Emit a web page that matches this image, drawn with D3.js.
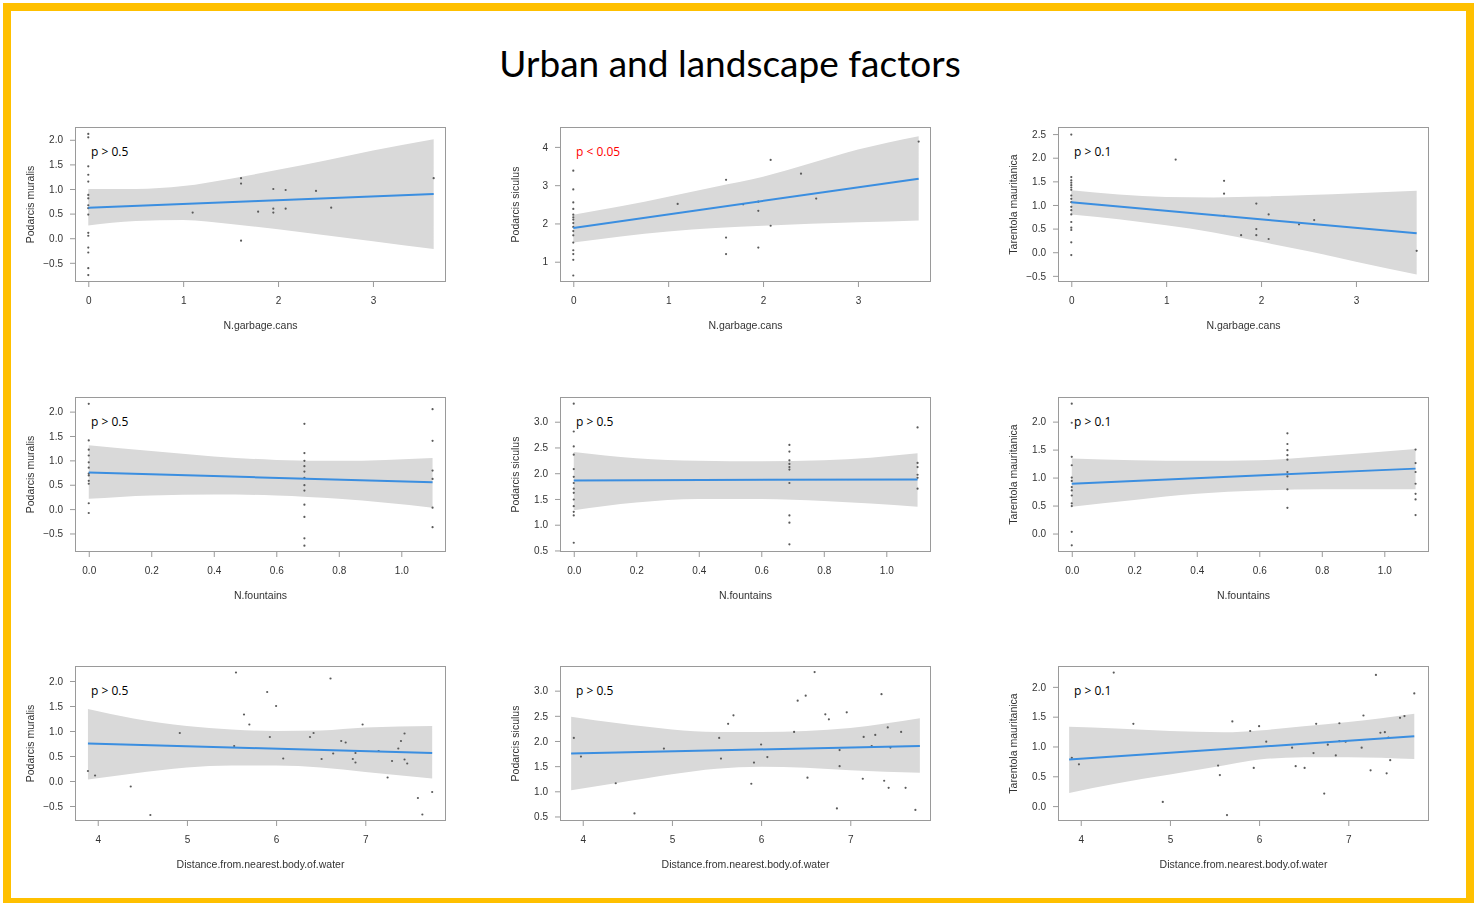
<!DOCTYPE html>
<html>
<head>
<meta charset="utf-8">
<script src="https://cdn.jsdelivr.net/npm/d3@7"></script>
<style>
  body { margin: 0; background: #fff; }
  svg { display: block; }
</style>
</head>
<body>
<svg id="chart" width="1480" height="903"></svg>
<script>
// ---- Observations: [predictor, abundance] ----
const ptsMuralisGarbage = [
  [0,2.12],[0,2.05],[0,1.46],[0,1.29],[0,1.15],[0,0.88],[0,0.81],[0,0.67],[0,0.61],[0,0.48],
  [0,0.11],[0,0.05],[0,-0.19],[0,-0.29],[0,-0.61],[0,-0.75],
  [1.1,0.52],[1.61,1.22],[1.61,1.11],[1.61,-0.05],[1.79,0.54],[1.95,1.0],[1.95,0.6],[1.95,0.52],
  [2.08,0.98],[2.08,0.6],[2.4,0.96],[2.56,0.62],[3.64,1.22]
];
const ptsSiculusGarbage = [
  [0,3.38],[0,2.89],[0,2.55],[0,2.38],[0,2.23],[0,2.16],[0,2.10],[0,2.01],[0,1.91],[0,1.80],
  [0,1.69],[0,1.50],[0,1.30],[0,1.20],[0,1.05],[0,0.64],
  [1.1,2.51],[1.61,3.14],[1.61,1.63],[1.61,1.2],[1.79,2.5],[1.95,2.57],[1.95,2.33],[1.95,1.37],
  [2.08,3.66],[2.08,1.94],[2.4,3.30],[2.56,2.65],[3.64,4.14]
];
const ptsTarentolaGarbage = [
  [0,2.49],[0,1.59],[0,1.52],[0,1.47],[0,1.42],[0,1.37],[0,1.32],[0,1.20],[0,1.13],[0,1.06],
  [0,0.96],[0,0.89],[0,0.80],[0,0.64],[0,0.52],[0,0.47],[0,0.21],[0,-0.06],
  [1.1,1.96],[1.61,1.51],[1.61,1.24],[1.61,0.77],[1.79,0.36],[1.95,1.03],[1.95,0.49],[1.95,0.36],
  [2.08,0.80],[2.08,0.28],[2.4,0.59],[2.56,0.68],[3.64,0.03]
];
const ptsMuralisFountains = [
  [0,2.16],[0,1.41],[0,1.22],[0,1.10],[0,0.96],[0,0.85],[0,0.73],[0,0.69],[0,0.58],[0,0.52],[0,0.12],[0,-0.08],
  [0.69,1.75],[0.69,1.15],[0.69,0.99],[0.69,0.88],[0.69,0.77],[0.69,0.64],[0.69,0.49],[0.69,0.38],
  [0.69,0.09],[0.69,-0.16],[0.69,-0.60],[0.69,-0.75],
  [1.1,2.05],[1.1,1.40],[1.1,0.79],[1.1,0.62],[1.1,0.03],[1.1,-0.37]
];
const ptsSiculusFountains = [
  [0,3.35],[0,2.81],[0,2.52],[0,2.36],[0,2.08],[0,1.93],[0,1.81],[0,1.70],[0,1.62],[0,1.49],
  [0,1.36],[0,1.25],[0,1.18],[0,0.65],
  [0.69,2.55],[0.69,2.42],[0.69,2.25],[0.69,2.18],[0.69,2.12],[0.69,2.07],[0.69,1.81],[0.69,1.18],
  [0.69,1.04],[0.69,0.62],
  [1.1,2.89],[1.1,2.20],[1.1,2.12],[1.1,1.97],[1.1,1.91],[1.1,1.70]
];
const ptsTarentolaFountains = [
  [0,2.32],[0,1.98],[0,1.37],[0,1.22],[0,1.00],[0,0.94],[0,0.83],[0,0.77],[0,0.68],[0,0.54],
  [0,0.49],[0,0.03],[0,-0.21],
  [0.69,1.79],[0.69,1.60],[0.69,1.49],[0.69,1.40],[0.69,1.32],[0.69,1.10],[0.69,1.02],[0.69,0.79],[0.69,0.46],
  [1.1,1.50],[1.1,1.26],[1.1,1.10],[1.1,0.89],[1.1,0.71],[1.1,0.61],[1.1,0.33]
];
const ptsMuralisWater = [
  [3.89,0.20],[3.97,0.11],[4.37,-0.11],[4.59,-0.68],[4.92,0.96],[5.53,0.70],[5.55,2.17],[5.64,1.33],
  [5.70,1.13],[5.90,1.78],[6.0,1.50],[5.93,0.88],[6.08,0.45],[6.38,0.88],[6.42,0.96],[6.51,0.44],
  [6.61,2.05],[6.64,0.55],[6.73,0.80],[6.78,0.77],[6.86,0.44],[6.89,0.56],[6.89,0.37],[6.97,1.13],
  [7.15,0.60],[7.25,0.07],[7.30,0.40],[7.37,0.65],[7.40,0.80],[7.44,0.95],[7.44,0.43],[7.47,0.35],
  [7.59,-0.34],[7.64,-0.67],[7.75,-0.22]
];
const ptsSiculusWater = [
  [3.90,2.06],[3.98,1.69],[4.37,1.16],[4.58,0.56],[4.91,1.85],[5.53,2.06],[5.55,1.65],[5.63,2.34],
  [5.69,2.51],[5.89,1.15],[5.92,1.57],[6.0,1.93],[6.07,1.68],[6.37,2.18],[6.41,2.80],[6.50,2.90],
  [6.52,1.27],[6.60,3.37],[6.72,2.53],[6.76,2.43],[6.85,0.66],[6.88,1.50],[6.88,1.82],[6.96,2.57],
  [7.14,1.25],[7.15,2.08],[7.24,1.90],[7.28,2.12],[7.35,2.93],[7.38,1.21],[7.42,2.27],[7.43,1.07],
  [7.45,1.87],[7.57,2.18],[7.62,1.07],[7.73,0.63]
];
const ptsTarentolaWater = [
  [3.90,0.81],[3.98,0.70],[4.37,2.24],[4.59,1.38],[4.92,0.07],[5.54,0.68],[5.56,0.52],[5.64,-0.15],
  [5.70,1.42],[5.90,1.26],[5.94,0.64],[6.0,1.34],[6.08,1.08],[6.37,0.98],[6.41,0.67],[6.51,0.64],
  [6.61,0.89],[6.64,1.38],[6.73,0.21],[6.77,1.03],[6.86,0.85],[6.90,1.39],[6.90,1.09],[6.97,1.08],
  [7.15,0.98],[7.17,1.52],[7.25,0.60],[7.31,2.20],[7.36,1.23],[7.41,1.24],[7.43,0.55],[7.45,1.15],
  [7.47,0.77],[7.58,1.48],[7.63,1.51],[7.74,1.89]
];

// ---- Fitted lines: [[x0, y0], [x1, y1]] ----
const fitMuralisGarbage    = [[0, 0.62], [3.64, 0.90]];
const fitSiculusGarbage    = [[0, 1.88], [3.64, 3.17]];
const fitTarentolaGarbage  = [[0, 1.06], [3.64, 0.40]];
const fitMuralisFountains  = [[0, 0.75], [1.1, 0.55]];
const fitSiculusFountains  = [[0, 1.86], [1.1, 1.88]];
const fitTarentolaFountains= [[0, 0.89], [1.1, 1.16]];
const fitMuralisWater      = [[3.89, 0.75], [7.75, 0.56]];
const fitSiculusWater      = [[3.87, 1.75], [7.78, 1.90]];
const fitTarentolaWater    = [[3.87, 0.78], [7.74, 1.17]];

// ---- Confidence bands: [x, lower, upper] ----
const bandMuralisGarbage = [
  [0,0.26,1.00],[0.5,0.35,1.00],[1,0.37,1.06],[1.5,0.29,1.21],[2,0.18,1.39],[2.5,0.06,1.58],[3,-0.06,1.78],[3.64,-0.22,2.01]
];
const bandSiculusGarbage = [
  [0,1.50,2.23],[0.5,1.66,2.45],[1,1.79,2.70],[1.5,1.88,2.96],[2,1.94,3.22],[2.5,1.99,3.57],[3,2.03,3.93],[3.64,2.08,4.28]
];
const bandTarentolaGarbage = [
  [0,0.80,1.31],[0.5,0.70,1.22],[1,0.57,1.17],[1.5,0.42,1.16],[2,0.22,1.18],[2.5,0.02,1.21],[3,-0.20,1.25],[3.64,-0.47,1.30]
];
const bandMuralisFountains = [
  [0,0.21,1.31],[0.2,0.28,1.19],[0.4,0.30,1.08],[0.6,0.28,1.01],[0.8,0.21,0.99],[1.1,0.03,1.05]
];
const bandSiculusFountains = [
  [0,1.28,2.41],[0.2,1.43,2.29],[0.4,1.50,2.24],[0.6,1.50,2.23],[0.8,1.46,2.25],[1.1,1.35,2.39]
];
const bandTarentolaFountains = [
  [0,0.48,1.34],[0.2,0.60,1.31],[0.4,0.71,1.30],[0.6,0.77,1.31],[0.8,0.79,1.38],[1.1,0.79,1.51]
];
const bandMuralisWater = [
  [3.89,0.03,1.44],[4.4,0.15,1.25],[5,0.27,1.10],[5.5,0.31,1.03],[6,0.31,1.00],[6.5,0.27,1.01],[7,0.18,1.07],[7.75,0.05,1.10]
];
const bandSiculusWater = [
  [3.87,1.02,2.48],[4.4,1.17,2.35],[5,1.34,2.23],[5.5,1.45,2.18],[6,1.49,2.18],[6.5,1.47,2.20],[7,1.42,2.26],[7.78,1.37,2.45]
];
const bandTarentolaWater = [
  [3.87,0.22,1.33],[4.4,0.38,1.30],[5,0.53,1.26],[5.6,0.68,1.24],[6,0.78,1.27],[6.5,0.82,1.34],[7,0.82,1.41],[7.74,0.79,1.55]
];

// ---- Axis limits and ticks ----
const xLimGarbage   = [-0.14, 3.77];
const xLimFountains = [-0.044, 1.143];
const xLimWater     = [3.745, 7.905];
const xTicksGarbage   = [0, 1, 2, 3];
const xTicksFountains = [0, 0.2, 0.4, 0.6, 0.8, 1.0];
const xTicksWater     = [4, 5, 6, 7];

const yLimits = [
  [-0.89, 2.26], [0.47, 4.52], [-0.63, 2.65],
  [-0.88, 2.30], [0.47, 3.48], [-0.33, 2.44],
  [-0.80, 2.30], [0.41, 3.49], [-0.25, 2.35]
];
const yTickSets = [
  [-0.5, 0, 0.5, 1, 1.5, 2], [1, 2, 3, 4], [-0.5, 0, 0.5, 1, 1.5, 2, 2.5],
  [-0.5, 0, 0.5, 1, 1.5, 2], [0.5, 1, 1.5, 2, 2.5, 3], [0, 0.5, 1, 1.5, 2],
  [-0.5, 0, 0.5, 1, 1.5, 2], [0.5, 1, 1.5, 2, 2.5, 3], [0, 0.5, 1, 1.5, 2]
];

const speciesNames = ["Podarcis muralis", "Podarcis siculus", "Tarentola mauritanica"];
const factorNames  = ["N.garbage.cans", "N.fountains", "Distance.from.nearest.body.of.water"];
const pLabels = ["p > 0.5", "p < 0.05", "p > 0.1", "p > 0.5", "p > 0.5", "p > 0.1", "p > 0.5", "p > 0.5", "p > 0.1"];
const pSignificant = [false, true, false, false, false, false, false, false, false];
const titleText = "Urban and landscape factors";

// ---- Panel table (row = factor, column = species) ----
const panelPoints = [ptsMuralisGarbage, ptsSiculusGarbage, ptsTarentolaGarbage,
  ptsMuralisFountains, ptsSiculusFountains, ptsTarentolaFountains,
  ptsMuralisWater, ptsSiculusWater, ptsTarentolaWater];
const panelFits = [fitMuralisGarbage, fitSiculusGarbage, fitTarentolaGarbage,
  fitMuralisFountains, fitSiculusFountains, fitTarentolaFountains,
  fitMuralisWater, fitSiculusWater, fitTarentolaWater];
const panelBands = [bandMuralisGarbage, bandSiculusGarbage, bandTarentolaGarbage,
  bandMuralisFountains, bandSiculusFountains, bandTarentolaFountains,
  bandMuralisWater, bandSiculusWater, bandTarentolaWater];
const factorXLim = [xLimGarbage, xLimFountains, xLimWater];
const factorXTicks = [xTicksGarbage, xTicksFountains, xTicksWater];
const factorXFormat = [d3.format("d"), d3.format(".1f"), d3.format("d")];

// ---- Layout ----
const colLeft = [75, 560, 1058];
const rowTop = [127, 397, 666];
const plotW = 371, plotH = 155;

const svg = d3.select("#chart");

// Gold frame
svg.append("rect")
  .attr("x", 7).attr("y", 7)
  .attr("width", 1463).attr("height", 895)
  .attr("fill", "#fff")
  .attr("stroke", "#FFC000")
  .attr("stroke-width", 8);

svg.append("text")
  .attr("x", 730).attr("y", 77)
  .attr("text-anchor", "middle")
  .attr("font-family", "Lato, 'Open Sans', sans-serif")
  .attr("font-size", 37)
  .attr("fill", "#000")
  .text(titleText);

const defs = svg.append("defs");
defs.append("filter").attr("id", "soft")
  .append("feGaussianBlur").attr("stdDeviation", 0.35);

const tickFont = "'Liberation Sans', Arial, sans-serif";
const axisGrey = "#9a9a9a";
const textGrey = "#333";

for (let i = 0; i < 9; i++) {
  const row = Math.floor(i / 3), col = i % 3;
  const x0 = colLeft[col], y0 = rowTop[row];
  const x = d3.scaleLinear().domain(factorXLim[row]).range([x0, x0 + plotW]);
  const y = d3.scaleLinear().domain(yLimits[i]).range([y0 + plotH, y0]);

  const g = svg.append("g").attr("filter", "url(#soft)");
  const clipId = "clip" + i;
  defs.append("clipPath").attr("id", clipId)
    .append("rect").attr("x", x0).attr("y", y0).attr("width", plotW).attr("height", plotH);

  const inner = g.append("g").attr("clip-path", `url(#${clipId})`);

  // confidence band
  inner.append("path")
    .datum(panelBands[i])
    .attr("fill", "#d9d9d9")
    .attr("d", d3.area()
      .curve(d3.curveMonotoneX)
      .x(d => x(d[0])).y0(d => y(d[1])).y1(d => y(d[2])));

  // observations
  inner.selectAll("circle.obs")
    .data(panelPoints[i])
    .join("circle")
    .attr("class", "obs")
    .attr("cx", d => x(d[0])).attr("cy", d => y(d[1]))
    .attr("r", 1.1)
    .attr("fill", "#5a5a5a");

  // fitted line
  inner.append("path")
    .datum(panelFits[i])
    .attr("fill", "none")
    .attr("stroke", "#3a8ee0")
    .attr("stroke-width", 2)
    .attr("d", d3.line().x(d => x(d[0])).y(d => y(d[1])));

  // plot frame
  g.append("rect")
    .attr("x", x0 + 0.5).attr("y", y0 + 0.5)
    .attr("width", plotW - 1).attr("height", plotH - 1)
    .attr("fill", "none").attr("stroke", axisGrey).attr("stroke-width", 1);

  // axes
  const xAxis = d3.axisBottom(x).tickValues(factorXTicks[row])
    .tickFormat(factorXFormat[row]).tickSize(5).tickPadding(10);
  const yFmt = i === 1 ? d3.format("d") : d3.format(".1f");
  const yAxis = d3.axisLeft(y).tickValues(yTickSets[i])
    .tickFormat(yFmt).tickSize(5).tickPadding(7);

  const gx = g.append("g").attr("transform", `translate(0,${y0 + plotH})`).call(xAxis);
  const gy = g.append("g").attr("transform", `translate(${x0},0)`).call(yAxis);
  [gx, gy].forEach(a => {
    a.select(".domain").remove();
    a.selectAll("line").attr("stroke", axisGrey);
    a.selectAll("text").attr("font-family", tickFont).attr("font-size", 10).attr("fill", textGrey);
  });

  // axis titles
  g.append("text")
    .attr("x", x0 + plotW / 2).attr("y", y0 + plotH + 47)
    .attr("text-anchor", "middle")
    .attr("font-family", tickFont).attr("font-size", 10.5).attr("fill", textGrey)
    .text(factorNames[row]);
  g.append("text")
    .attr("transform", `translate(${x0 - 41},${y0 + plotH / 2}) rotate(-90)`)
    .attr("text-anchor", "middle")
    .attr("font-family", tickFont).attr("font-size", 10.5).attr("fill", textGrey)
    .text(speciesNames[col]);

  // significance note
  svg.append("text")
    .attr("x", x0 + 16).attr("y", y0 + 29)
    .attr("font-family", "'Open Sans', 'Noto Sans', sans-serif")
    .attr("font-size", 12)
    .attr("fill", pSignificant[i] ? "#ff0000" : "#000")
    .text(pLabels[i]);
}
</script>
</body>
</html>
